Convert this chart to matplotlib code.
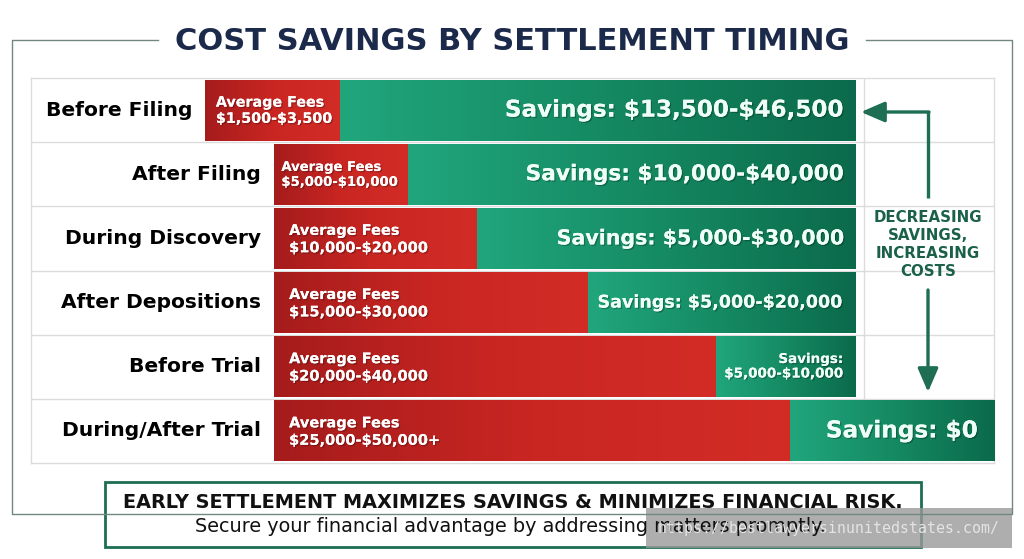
import matplotlib
matplotlib.use("Agg")
import matplotlib.pyplot as plt
import matplotlib.patheffects as pe
from matplotlib.colors import LinearSegmentedColormap
from matplotlib.patches import Rectangle, FancyArrowPatch
import numpy as np

# ---------------------------------------------------------------- data
stages = ["Before Filing", "After Filing", "During Discovery",
          "After Depositions", "Before Trial", "During/After Trial"]
fee_labels = ["$1,500-$3,500", "$5,000-$10,000", "$10,000-$20,000",
              "$15,000-$30,000", "$20,000-$40,000", "$25,000-$50,000+"]
savings_labels = ["Savings: $13,500-$46,500", "Savings: $10,000-$40,000",
                  "Savings: $5,000-$30,000", "Savings: $5,000-$20,000",
                  "Savings:\n$5,000-$10,000", "Savings: $0"]
fee_from = [18.1, 25.2, 25.2, 25.2, 25.2, 25.2]
fee_to = [32.1, 39.1, 46.3, 57.8, 71.1, 78.8]
save_to = [85.6, 85.6, 85.6, 85.6, 85.6, 100.0]

# ---------------------------------------------------------------- styles
W, H = 1024, 559
NAVY = "#1b2a4a"
DKGREEN = "#1d6e52"
GRID = "#dcdcdc"
fee_sizes = [10.3, 9.5, 10.5, 10.5, 10.5, 10.5]
fee_pad = [1.1, 0.8, 1.6, 1.6, 1.6, 1.6]
save_sizes = [16.6, 15.6, 14.8, 12.6, 9.7, 16.7]
red_cmap = LinearSegmentedColormap.from_list("r", ["#a51c1c", "#c92622", "#d32c27"])
green_cmap = LinearSegmentedColormap.from_list("g", ["#21a67c", "#158a63", "#0b6a4b"])
shadow = [pe.withSimplePatchShadow(offset=(1, -1), shadow_rgbFace="black", alpha=0.25), pe.Normal()]

fig = plt.figure(figsize=(W / 100, H / 100), dpi=100)
fig.patch.set_facecolor("white")

# table / bar axes (table spans x 31..994 px, y 78..463 px)
ax = fig.add_axes([31 / W, (H - 463) / H, 963 / W, 385 / H])
ax.set_zorder(1)
y = np.arange(len(stages))
fee_w = np.array(fee_to) - np.array(fee_from)
save_w = np.array(save_to) - np.array(fee_to)

# grid of the table
for i in range(len(stages) - 1):
    ax.axhline(i + 0.5, color=GRID, lw=1, zorder=0)
ax.plot([86.5, 86.5], [-0.5, 4.5], color=GRID, lw=1, zorder=0)
for s in ax.spines.values():
    s.set_color(GRID)
    s.set_linewidth(1)

bh = 0.95
fee_bars = ax.barh(y, fee_w, left=fee_from, height=bh, color="#c92622", zorder=2)
save_bars = ax.barh(y, save_w, left=fee_to, height=bh, color="#158a63", zorder=2)

# horizontal colour gradients clipped to each bar
grad = np.linspace(0, 1, 256).reshape(1, -1)
for bars, cmap in [(fee_bars, red_cmap), (save_bars, green_cmap)]:
    for p in bars:
        x0, y0 = p.get_x(), p.get_y()
        im = ax.imshow(grad, cmap=cmap, aspect="auto", zorder=3,
                       extent=[x0, x0 + p.get_width(), y0 + p.get_height(), y0])
        im.set_clip_path(p)

for i in range(len(stages)):
    ax.text(fee_from[i] - 1.3, y[i], stages[i], ha="right", va="center",
            fontsize=14.6, fontweight="bold", color="black", zorder=5)
    ax.text(fee_from[i] + fee_pad[i], y[i] + 0.01, "Average Fees\n" + fee_labels[i],
            ha="left", va="center", fontsize=fee_sizes[i], fontweight="bold",
            color="white", linespacing=1.2, zorder=5, path_effects=shadow,
            parse_math=False)
    pad = 1.25 if i < 5 else 1.65
    ax.text(save_to[i] - pad, y[i], savings_labels[i], ha="right", va="center",
            fontsize=save_sizes[i], fontweight="bold", color="#effff7",
            multialignment="right", linespacing=1.15, zorder=5, path_effects=shadow,
            parse_math=False)

ax.set_xlim(0, 100)
ax.set_ylim(len(stages) - 0.5, -0.5)
ax.set_xticks([])
ax.set_yticks([])

# ---------------------------------------------------------------- overlay (pixel units)
ov = fig.add_axes([0, 0, 1, 1])
ov.set_zorder(2)
ov.patch.set_alpha(0)
ov.set_xlim(0, W)
ov.set_ylim(H, 0)
ov.axis("off")

frame_c = "#72877f"
ov.plot([158, 12, 12, 1012, 1012, 866], [40, 40, 514, 514, 40, 40], color=frame_c, lw=1)
ov.text(512, 41, "COST SAVINGS BY SETTLEMENT TIMING", ha="center", va="center",
        fontsize=22, fontweight="bold", color=NAVY)

# trend arrows
arrow_style = "-|>,head_length=6,head_width=2.6"
ov.plot([928, 928], [198, 112], color=DKGREEN, lw=2.4, solid_capstyle="butt")
ov.add_patch(FancyArrowPatch((929, 112), (861, 112), arrowstyle=arrow_style,
                             color=DKGREEN, lw=2.4, mutation_scale=2.4, shrinkA=0, shrinkB=0))
ov.add_patch(FancyArrowPatch((928, 290), (928, 392), arrowstyle=arrow_style,
                             color=DKGREEN, lw=2.4, mutation_scale=2.4, shrinkA=0, shrinkB=0))
ov.text(928, 244, "DECREASING\nSAVINGS,\nINCREASING\nCOSTS", ha="center", va="center",
        fontsize=10.8, fontweight="bold", color="#1b6149", linespacing=1.25)

# bottom call-out
ov.add_patch(Rectangle((105, 482), 816, 65, facecolor="white", edgecolor=DKGREEN, lw=2))
ov.text(513, 503, "EARLY SETTLEMENT MAXIMIZES SAVINGS & MINIMIZES FINANCIAL RISK.",
        ha="center", va="center", fontsize=13.9, fontweight="bold", color="#111111")
ov.text(510, 527, "Secure your financial advantage by addressing matters promptly.",
        ha="center", va="center", fontsize=13.9, color="#111111")

# watermark
ov.add_patch(Rectangle((646, 508), 366, 40, facecolor="#9a9a9a", alpha=0.8, edgecolor="none"))
ov.text(829, 529, "https://bestlawyersinunitedstates.com/", ha="center", va="center",
        fontsize=10.7, family="DejaVu Sans Mono", color="#e4e4e4")

fig.savefig("out.png", dpi=100)
